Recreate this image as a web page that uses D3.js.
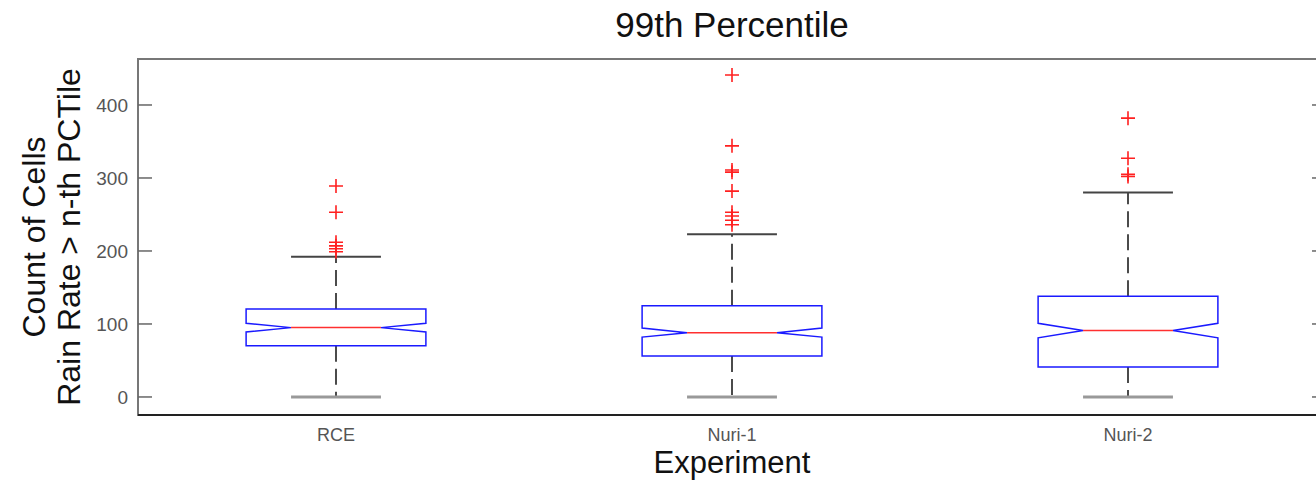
<!DOCTYPE html>
<html>
<head>
<meta charset="utf-8">
<script src="https://cdn.jsdelivr.net/npm/d3@7"></script>
<style>
  body { margin: 0; background: #fff; }
  svg { display: block; font-family: Arial, "Liberation Sans", sans-serif; }
</style>
</head>
<body>
<svg id="chart"></svg>
<script>
// box statistics
const categories = ["RCE", "Nuri-1", "Nuri-2"];
const q1 = [70, 56, 41];
const medians = [95, 88, 91];
const q3 = [120.5, 125, 138];
const notchLo = [89, 82, 81];
const notchHi = [101, 94.5, 101];
const whiskerLo = [0, 0, 0];
const whiskerHi = [192, 223, 280];
const outliers = [
  [199, 203, 207, 212, 253, 289],
  [236, 242, 248, 253, 282, 308, 311, 344, 441],
  [302, 305, 327, 382]
];
const yTicks = [0, 100, 200, 300, 400];

const W = 1316, H = 480;
const plot = { left: 138, right: 1326, top: 59, bottom: 415 };

const svg = d3.select("#chart")
    .attr("width", W)
    .attr("height", H);

const x = d3.scaleBand()
    .domain(categories)
    .range([plot.left, plot.right])
    .padding(0);
const y = d3.scaleLinear()
    .domain([-24.7, 463])
    .range([plot.bottom, plot.top]);

const data = categories.map((c, i) => ({
  name: c, q1: q1[i], med: medians[i], q3: q3[i],
  nlo: notchLo[i], nhi: notchHi[i], wlo: whiskerLo[i], whi: whiskerHi[i],
  out: outliers[i]
}));

const hw = x.bandwidth() * 0.227;   // half box width
const cx = d => x(d.name) + x.bandwidth() / 2;

// frame
svg.append("rect")
    .attr("x", plot.left).attr("y", plot.top)
    .attr("width", plot.right - plot.left).attr("height", plot.bottom - plot.top)
    .attr("fill", "none")
    .attr("stroke", "#777")
    .attr("stroke-width", 2);
svg.append("line")
    .attr("x1", plot.left).attr("x2", plot.right)
    .attr("y1", plot.bottom).attr("y2", plot.bottom)
    .attr("stroke", "#222")
    .attr("stroke-width", 2);

// y ticks, inward on both sides
const tickG = svg.append("g");
tickG.selectAll(".tl")
    .data(yTicks)
  .enter().append("line")
    .attr("x1", plot.left).attr("x2", plot.left + 14)
    .attr("y1", d => y(d)).attr("y2", d => y(d))
    .attr("stroke", "#666").attr("stroke-width", 1.5);
tickG.selectAll(".tr")
    .data(yTicks)
  .enter().append("line")
    .attr("x1", plot.right).attr("x2", plot.right - 14)
    .attr("y1", d => y(d)).attr("y2", d => y(d))
    .attr("stroke", "#666").attr("stroke-width", 1.5);
tickG.selectAll("text")
    .data(yTicks)
  .enter().append("text")
    .attr("x", plot.left - 10)
    .attr("y", d => y(d))
    .attr("dy", "0.36em")
    .attr("text-anchor", "end")
    .attr("font-size", 19)
    .attr("fill", "#555")
    .text(d => d);

// x tick labels
svg.append("g").selectAll("text")
    .data(categories)
  .enter().append("text")
    .attr("x", d => x(d) + x.bandwidth() / 2)
    .attr("y", 441)
    .attr("text-anchor", "middle")
    .attr("font-size", 18)
    .attr("fill", "#555")
    .text(d => d);

const boxes = svg.selectAll(".box")
    .data(data)
  .enter().append("g")
    .attr("class", "box");

// whiskers
boxes.append("line")
    .attr("x1", cx).attr("x2", cx)
    .attr("y1", d => y(d.q3)).attr("y2", d => y(d.whi))
    .attr("stroke", "#111").attr("stroke-width", 1.5)
    .attr("stroke-dasharray", "16,7");
boxes.append("line")
    .attr("x1", cx).attr("x2", cx)
    .attr("y1", d => y(d.q1)).attr("y2", d => y(d.wlo))
    .attr("stroke", "#111").attr("stroke-width", 1.5)
    .attr("stroke-dasharray", "16,7");

// caps
boxes.append("line")
    .attr("x1", d => cx(d) - hw / 2).attr("x2", d => cx(d) + hw / 2)
    .attr("y1", d => y(d.whi)).attr("y2", d => y(d.whi))
    .attr("stroke", "#444").attr("stroke-width", 2);
boxes.append("line")
    .attr("x1", d => cx(d) - hw / 2).attr("x2", d => cx(d) + hw / 2)
    .attr("y1", d => y(d.wlo)).attr("y2", d => y(d.wlo))
    .attr("stroke", "#999").attr("stroke-width", 3);

// notched box
boxes.append("path")
    .attr("d", d => {
      const c = cx(d), l = c - hw, r = c + hw;
      return d3.line()([
        [l, y(d.q3)], [l, y(d.nhi)], [l + hw / 2, y(d.med)], [l, y(d.nlo)],
        [l, y(d.q1)], [r, y(d.q1)], [r, y(d.nlo)], [r - hw / 2, y(d.med)],
        [r, y(d.nhi)], [r, y(d.q3)]
      ]) + "Z";
    })
    .attr("fill", "none")
    .attr("stroke", "#1a1aff")
    .attr("stroke-width", 1.5);

// median
boxes.append("line")
    .attr("x1", d => cx(d) - hw / 2).attr("x2", d => cx(d) + hw / 2)
    .attr("y1", d => y(d.med)).attr("y2", d => y(d.med))
    .attr("stroke", "#ff3030").attr("stroke-width", 1.5);

// outliers
boxes.each(function(d) {
  d3.select(this).selectAll(".out")
      .data(d.out)
    .enter().append("path")
      .attr("class", "out")
      .attr("transform", v => `translate(${cx(d)},${y(v)})`)
      .attr("d", "M-7,0H7M0,-7V7")
      .attr("stroke", "#ff2020")
      .attr("stroke-width", 1.6)
      .attr("fill", "none");
});

// titles
const midX = (plot.left + plot.right) / 2;
const midY = (plot.top + plot.bottom) / 2;
svg.append("text")
    .attr("x", midX).attr("y", 37)
    .attr("text-anchor", "middle")
    .attr("font-size", 35)
    .attr("fill", "#111")
    .text("99th Percentile");
svg.append("text")
    .attr("x", midX).attr("y", 473)
    .attr("text-anchor", "middle")
    .attr("font-size", 31)
    .attr("fill", "#111")
    .text("Experiment");
svg.append("text")
    .attr("transform", `translate(45,${midY}) rotate(-90)`)
    .attr("text-anchor", "middle")
    .attr("font-size", 32)
    .attr("fill", "#111")
    .text("Count of Cells");
svg.append("text")
    .attr("transform", `translate(80,${midY}) rotate(-90)`)
    .attr("text-anchor", "middle")
    .attr("font-size", 32)
    .attr("fill", "#111")
    .text("Rain Rate > n-th PCTile");
</script>
</body>
</html>
